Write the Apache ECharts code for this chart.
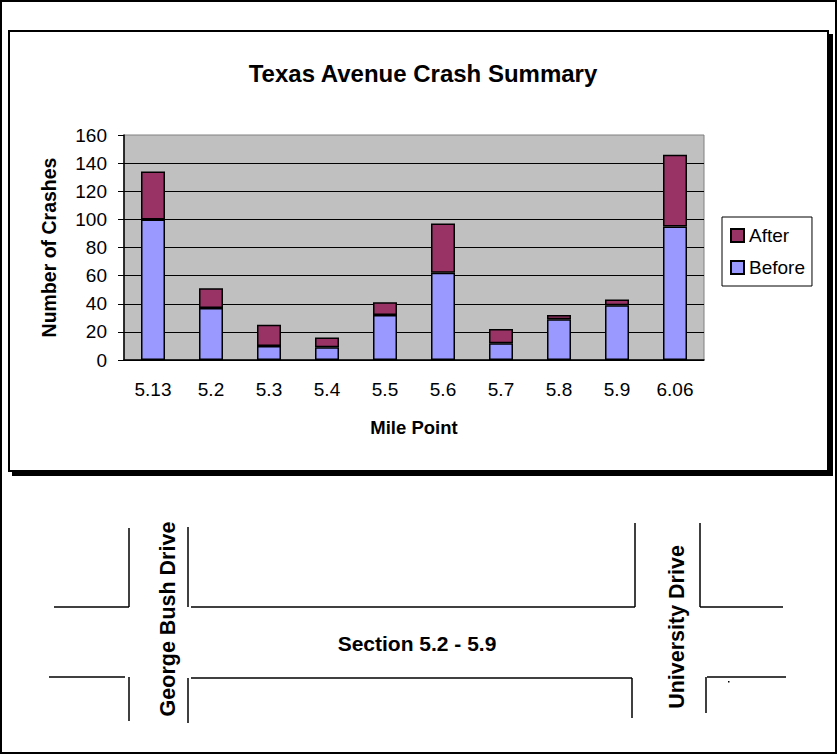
<!DOCTYPE html>
<html>
<head>
<meta charset="utf-8">
<title>Texas Avenue Crash Summary</title>
<script src="https://cdn.jsdelivr.net/npm/echarts@6/dist/echarts.min.js"></script>
<style>
  html, body { margin: 0; padding: 0; background: #fff; }
  #border { position: absolute; left: 0; top: 0; width: 837px; height: 754px; box-sizing: border-box; border: 2px solid #000; }
  #frame { position: absolute; left: 8px; top: 30px; width: 821px; height: 442px; box-sizing: border-box; border: 2px solid #000; box-shadow: 4px 4px 0 #000; }
  #chart { position: absolute; left: 0; top: 0; width: 837px; height: 754px; }
</style>
</head>
<body>
<div id="border"></div>
<div id="frame"></div>
<div id="chart"></div>
<script>
// mile points along Texas Avenue
const milePoints = ['5.13', '5.2', '5.3', '5.4', '5.5', '5.6', '5.7', '5.8', '5.9', '6.06']
// crashes before / after (stacked)
const beforeCrashes = [100, 37, 10, 9, 32, 62, 12, 29, 39, 95]
const afterCrashes = [34, 14, 15, 7, 9, 35, 10, 3, 4, 51]

const FONT = 'Liberation Sans, Arial, sans-serif'

const chart = echarts.init(document.getElementById('chart'), null, { renderer: 'svg' })

// road sketch under the chart (decoration only)
const roadLines = [
  [129, 528, 129, 607], [54, 607, 129, 607],
  [49, 677, 125, 677], [129, 677, 129, 721],
  [188, 527, 188, 607], [191, 607, 635, 607], [635, 523, 635, 607],
  [188, 678, 188, 723], [191, 678, 632, 678], [632, 678, 632, 718],
  [700, 523, 700, 607], [700, 607, 783, 607],
  [706, 677, 706, 713], [707, 677, 786, 677]
]

const graphic = roadLines.map(l => ({
  type: 'line',
  shape: { x1: l[0], y1: l[1], x2: l[2], y2: l[3] },
  style: { stroke: '#000', lineWidth: 1.5 },
  silent: true
}))

graphic.push(
  {
    type: 'text',
    x: 168, y: 619, rotation: Math.PI / 2,
    style: { text: 'George Bush Drive', font: 'bold 21.5px ' + FONT, fill: '#000', align: 'center', verticalAlign: 'middle' }
  },
  {
    type: 'text',
    x: 677, y: 627, rotation: Math.PI / 2,
    style: { text: 'University Drive', font: 'bold 21.5px ' + FONT, fill: '#000', align: 'center', verticalAlign: 'middle' }
  },
  {
    type: 'text',
    x: 417, y: 643,
    style: { text: 'Section 5.2 - 5.9', font: 'bold 21px ' + FONT, fill: '#000', align: 'center', verticalAlign: 'middle' }
  },
  {
    type: 'rect',
    shape: { x: 728, y: 681, width: 1.5, height: 1.5 },
    style: { fill: '#000' }
  }
)

chart.setOption({
  animation: false,
  title: {
    text: 'Texas Avenue Crash Summary',
    left: 418,
    top: 56,
    textAlign: 'center',
    textStyle: { fontFamily: FONT, fontSize: 24, fontWeight: 'bold', color: '#000' }
  },
  legend: {
    data: ['After', 'Before'],
    orient: 'vertical',
    left: 722,
    top: 217,
    padding: [9, 7, 9, 8],
    itemWidth: 13,
    itemHeight: 13,
    itemGap: 13,
    icon: 'rect',
    backgroundColor: '#fff',
    borderColor: '#000',
    borderWidth: 1,
    textStyle: { fontFamily: FONT, fontSize: 19, color: '#000' }
  },
  grid: {
    left: 124,
    top: 135,
    width: 580,
    height: 225,
    show: true,
    backgroundColor: '#c0c0c0',
    borderColor: '#808080',
    borderWidth: 1
  },
  xAxis: {
    type: 'category',
    data: milePoints,
    name: 'Mile Point',
    nameLocation: 'middle',
    nameGap: 58,
    nameTextStyle: { fontFamily: FONT, fontSize: 18.5, fontWeight: 'bold', color: '#000' },
    axisLine: { lineStyle: { color: '#000', width: 1.5 } },
    axisTick: { length: 7, lineStyle: { color: '#000' } },
    axisLabel: { fontFamily: FONT, fontSize: 19, color: '#000', margin: 20 }
  },
  yAxis: {
    type: 'value',
    min: 0,
    max: 160,
    interval: 20,
    name: 'Number of Crashes',
    nameLocation: 'middle',
    nameGap: 65,
    nameTextStyle: { fontFamily: FONT, fontSize: 19.5, fontWeight: 'bold', color: '#000' },
    axisLine: { show: true, lineStyle: { color: '#000', width: 1.5 } },
    axisTick: { show: true, length: 6, lineStyle: { color: '#000' } },
    axisLabel: { fontFamily: FONT, fontSize: 19, color: '#000', margin: 17 },
    splitLine: { show: true, showMaxLine: false, lineStyle: { color: '#000', width: 1 } }
  },
  series: [
    {
      name: 'Before',
      type: 'bar',
      stack: 'crashes',
      data: beforeCrashes,
      barWidth: 24,
      itemStyle: { color: '#9999ff', borderColor: '#000', borderWidth: 1.5 }
    },
    {
      name: 'After',
      type: 'bar',
      stack: 'crashes',
      data: afterCrashes,
      barWidth: 24,
      itemStyle: { color: '#993366', borderColor: '#000', borderWidth: 1.5 }
    }
  ],
  graphic: graphic
})
</script>
</body>
</html>
